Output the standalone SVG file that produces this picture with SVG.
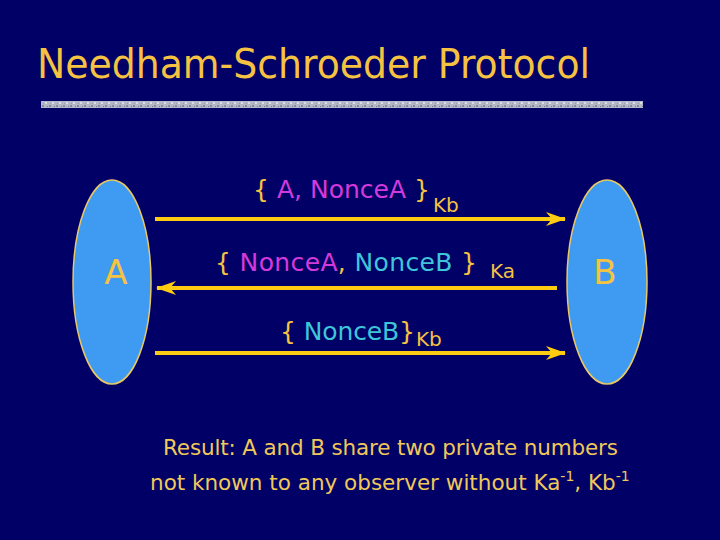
<svg xmlns="http://www.w3.org/2000/svg" width="720" height="540" viewBox="0 0 720 540">
<defs>
<style>
.title{font-family:"DejaVu Sans",sans-serif;font-size:41px;fill:#F5C242}
.lbl{font-family:"DejaVu Sans",sans-serif;font-size:25px}
.sub{font-family:"DejaVu Sans",sans-serif;font-size:20px;fill:#F5C242}
.y{fill:#F5C242}
.m{fill:#D43ADB}
.c{fill:#3EC6D8}
.res{font-family:"DejaVu Sans",sans-serif;font-size:21.5px;fill:#F0C85A}
.node{fill:#3F9BF2;stroke:#E8C866;stroke-width:1.5}
.nl{font-family:"DejaVu Sans",sans-serif;font-size:34px;fill:#F5C242}
.arr{stroke:#FFCC11;stroke-width:4;fill:none}
</style>
<pattern id="grain" width="7" height="7" patternUnits="userSpaceOnUse">
<rect width="7" height="7" fill="#B4B8C6"/>
<rect x="0" y="0" width="2" height="2" fill="#868A9A"/>
<rect x="3" y="4" width="2" height="2" fill="#DCDEE6"/>
<rect x="5" y="1" width="1" height="1" fill="#767A8C"/>
<rect x="1" y="5" width="1" height="1" fill="#9A9EAE"/>
</pattern>
<marker id="ah" viewBox="0 0 20 14" refX="19" refY="7" markerWidth="20" markerHeight="14" markerUnits="userSpaceOnUse" orient="auto">
<path d="M0,0 L20,7 L0,14 L6,7 Z" fill="#FFCC11"/>
</marker>
</defs>
<rect width="720" height="540" fill="#000066"/>
<text class="title" x="37" y="78" textLength="553" lengthAdjust="spacingAndGlyphs">Needham-Schroeder Protocol</text>
<rect x="41" y="101" width="602" height="7" fill="url(#grain)"/>
<g id="nodeA">
<ellipse class="node" cx="112" cy="282" rx="39" ry="102"/>
<text class="nl" x="116" y="284" text-anchor="middle">A</text>
</g>
<g id="nodeB">
<ellipse class="node" cx="607" cy="282" rx="40" ry="102"/>
<text class="nl" x="605" y="284" text-anchor="middle">B</text>
</g>
<g id="connectors">
<line class="arr" x1="155" y1="219" x2="565" y2="219" marker-end="url(#ah)"/>
<line class="arr" x1="557" y1="288" x2="157" y2="288" marker-end="url(#ah)"/>
<line class="arr" x1="155" y1="353" x2="565" y2="353" marker-end="url(#ah)"/>
</g>
<g id="labels">
<text class="lbl" x="253" y="198" textLength="177"><tspan class="y">{ </tspan><tspan class="m">A, NonceA</tspan><tspan class="y"> }</tspan></text>
<text class="sub" x="433" y="212">Kb</text>
<text class="lbl" x="215" y="271" textLength="262"><tspan class="y">{ </tspan><tspan class="m">NonceA</tspan><tspan class="y">, </tspan><tspan class="c">NonceB</tspan><tspan class="y"> }</tspan></text>
<text class="sub" x="490" y="278">Ka</text>
<text class="lbl" x="280" y="340" textLength="135"><tspan class="y">{ </tspan><tspan class="c">NonceB</tspan><tspan class="y">}</tspan></text>
<text class="sub" x="416" y="346">Kb</text>
</g>
<text class="res" x="163" y="455" textLength="455">Result: A and B share two private numbers</text>
<text class="res" x="150" y="490">not known to any observer without Ka<tspan dy="-9" font-size="14">-1</tspan><tspan dy="9">, Kb</tspan><tspan dy="-9" font-size="14">-1</tspan></text>
</svg>
